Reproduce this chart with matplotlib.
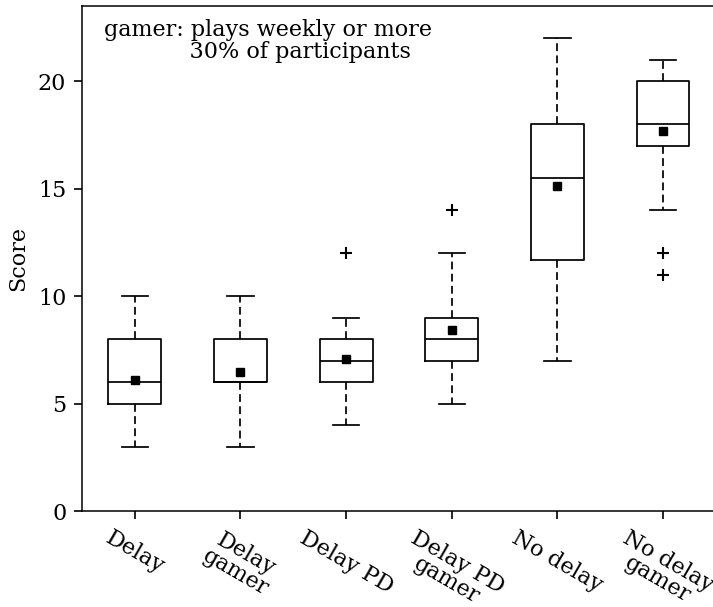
import matplotlib.pyplot as plt

plt.rcParams['font.family'] = 'DejaVu Serif'

# Box statistics for each condition
labels = ['Delay', 'Delay\ngamer', 'Delay PD', 'Delay PD\ngamer', 'No delay', 'No delay\ngamer']
q1 = [5, 6, 6, 7, 11.7, 17]
med = [6, 6, 7, 8, 15.5, 18]
q3 = [8, 8, 8, 9, 18, 20]
whislo = [3, 3, 4, 5, 7, 14]
whishi = [10, 10, 9, 12, 22, 21]
means = [6.08, 6.45, 7.08, 8.42, 15.15, 17.68]
fliers = [[], [], [12], [14], [], [12, 11]]

stats = []
for i in range(len(labels)):
    stats.append(dict(label=labels[i], q1=q1[i], med=med[i], q3=q3[i],
                      whislo=whislo[i], whishi=whishi[i], mean=means[i],
                      fliers=fliers[i]))

fig = plt.figure(figsize=(7.13, 6.07), dpi=100)
ax = fig.add_axes([0.115, 0.158, 0.889, 0.832])

lw = 1.25
ax.bxp(stats, widths=0.5, showmeans=True,
       boxprops=dict(color='black', linewidth=lw),
       medianprops=dict(color='black', linewidth=lw),
       whiskerprops=dict(color='black', linewidth=lw, linestyle=(0, (4.5, 2.5))),
       capprops=dict(color='black', linewidth=lw),
       meanprops=dict(marker='s', markerfacecolor='black', markeredgecolor='black', markersize=6),
       flierprops=dict(marker='+', markeredgecolor='black', markersize=9, markeredgewidth=1.5))

ax.set_xlim(0.5, 6.5)
ax.set_ylim(0, 23.5)
ax.set_yticks([0, 5, 10, 15, 20])
ax.set_ylabel('Score', fontsize=16, labelpad=6)
ax.tick_params(labelsize=16, length=5.8, width=1.2, pad=5.5)
for s in ax.spines.values():
    s.set_linewidth(1.1)
plt.setp(ax.get_xticklabels(), rotation=-30, linespacing=0.95)

ax.text(0.035, 0.975, 'gamer: plays weekly or more\n            30% of participants',
        transform=ax.transAxes, fontsize=16, va='top', ha='left', linespacing=1.0)

fig.savefig('out.png', dpi=100)
